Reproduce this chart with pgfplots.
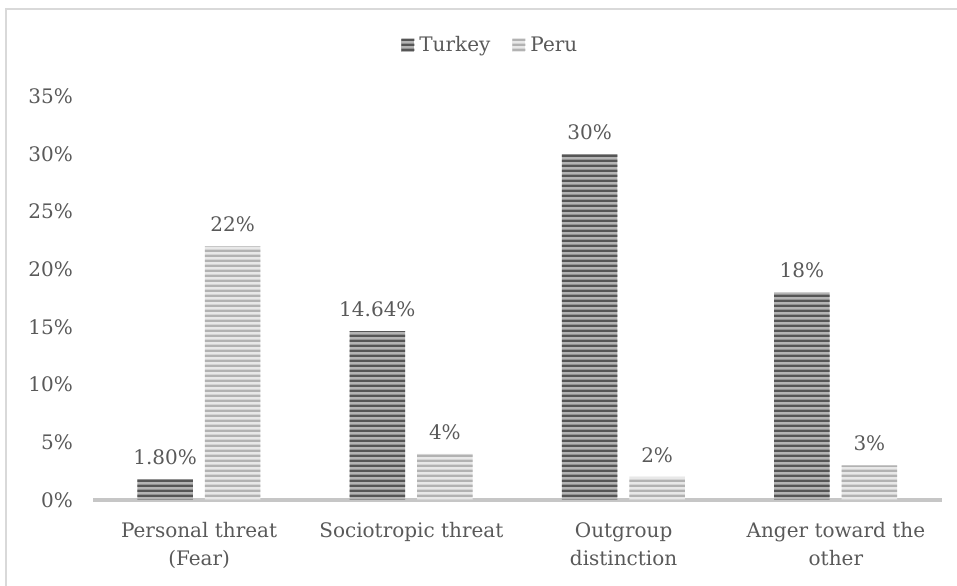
\documentclass[border=0pt]{standalone}
\usepackage{pgfplots}
\pgfplotsset{compat=1.18}
\usepackage{fontspec}
\setmainfont{DejaVu Serif}
\usetikzlibrary{patterns}
\pgfdeclarepatternformonly{hstripes}{\pgfpoint{0bp}{0bp}}{\pgfpoint{1000bp}{5.3bp}}{\pgfpoint{1000bp}{5.3bp}}{%
  \pgfpathrectangle{\pgfpoint{0bp}{0bp}}{\pgfpoint{1000bp}{2.65bp}}\pgfusepath{fill}}
\definecolor{txt}{HTML}{595959}
\definecolor{frame}{HTML}{D9D9D9}
\definecolor{axln}{HTML}{C6C6C6}
\definecolor{tkbg}{HTML}{B4B4B4}
\definecolor{tkln}{HTML}{555555}
\definecolor{pebg}{HTML}{E8E8E8}
\definecolor{peln}{HTML}{B2B2B2}
\tikzset{
  turkeybar/.style={draw=none, fill=tkbg, postaction={pattern=hstripes, pattern color=tkln}},
  perubar/.style={draw=none, fill=pebg, postaction={pattern=hstripes, pattern color=peln}},
}
\begin{document}
\begin{tikzpicture}
\path[use as bounding box] (0,0) rectangle (957bp,586bp);
\draw[frame, line width=2bp] (6bp,0) -- (6bp,577bp) -- (957bp,577bp);
\begin{axis}[
  at={(93bp,86bp)}, anchor=south west,
  scale only axis, width=849bp, height=403.6bp,
  xmin=-0.5, xmax=3.5, ymin=0, ymax=35,
  ytick={0,5,...,35},
  yticklabel={\pgfmathprintnumber[assume math mode=true]{\tick}\%},
  yticklabel style={font=\fontsize{20bp}{24bp}\selectfont, text=txt, anchor=east, inner sep=0pt, xshift=-20bp},
  xtick={0,1,2,3},
  xticklabels={{Personal threat\\(Fear)},{Sociotropic threat},{Outgroup\\distinction},{Anger toward the\\other}},
  xticklabel style={align=center, font=\fontsize{20bp}{28bp}\selectfont, text=txt, anchor=north, inner sep=0pt, yshift=-18bp},
  axis x line*=bottom, axis y line*=left,
  x axis line style={draw=axln, line width=3bp, -},
  y axis line style={draw=none},
  major tick style={draw=none},
  ybar, bar width=55.5bp,
  point meta=explicit symbolic,
  nodes near coords,
  every node near coord/.append style={font=\fontsize{20bp}{24bp}\selectfont, text=txt, anchor=south, inner sep=0pt, yshift=14bp},
  legend style={draw=none, fill=none, at={(0.468,1.127)}, anchor=center, legend columns=2,
    font=\fontsize{20bp}{24bp}\selectfont, text=txt,
    /tikz/every odd column/.append style={column sep=3bp},
    /tikz/every even column/.append style={column sep=20bp}},
  legend image code/.code={\path[#1] (0bp,-6.5bp) rectangle (13bp,6.5bp);},
]
\addplot[turkeybar, bar shift=-34bp] coordinates {(0,1.8) [1.80\%] (1,14.64) [14.64\%] (2,30) [30\%] (3,18) [18\%]};
\addplot[perubar, bar shift=33.5bp] coordinates {(0,22) [22\%] (1,4) [4\%] (2,2) [2\%] (3,3) [3\%]};
\legend{Turkey, Peru}
\end{axis}
\end{tikzpicture}
\end{document}
